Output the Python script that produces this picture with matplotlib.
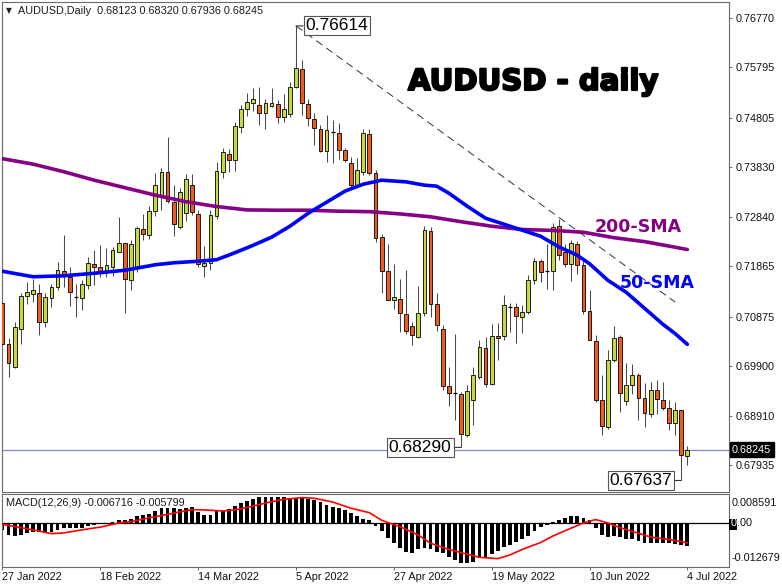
import matplotlib
matplotlib.use("Agg")
import matplotlib.pyplot as plt
from matplotlib.patches import Rectangle
import matplotlib.patheffects as pe

plt.rcParams['font.family'] = ['Liberation Sans', 'DejaVu Sans']
plt.rcParams['lines.scale_dashes'] = False

# ---------------- data ----------------
symbol = "AUDUSD,Daily"
last_ohlc = [0.68123, 0.68320, 0.67936, 0.68245]

opens = [
    0.71142, 0.70339, 0.69876, 0.70636, 0.71274, 0.71328, 0.71347, 0.70770, 0.71248, 0.71452,
    0.71768, 0.71660, 0.71268, 0.71240, 0.71495, 0.71921, 0.71853, 0.71772, 0.71853, 0.72158,
    0.72322, 0.71604, 0.71853, 0.72605, 0.72494, 0.72949, 0.73251, 0.73735, 0.73138, 0.72638,
    0.72911, 0.73469, 0.72909, 0.71867, 0.71930, 0.72856, 0.73731, 0.74075, 0.73963, 0.74621,
    0.74965, 0.75096, 0.75044, 0.74886, 0.75036, 0.75064, 0.74807, 0.74868, 0.75412, 0.75758,
    0.75064, 0.74779, 0.74576, 0.74141, 0.74510, 0.74491, 0.74166, 0.73898, 0.73478, 0.73731,
    0.74477, 0.73712, 0.72446, 0.71774, 0.71195, 0.71229, 0.70932, 0.70681, 0.70469, 0.70944,
    0.72565, 0.71116, 0.70636, 0.69495, 0.69362, 0.69337, 0.68526, 0.69232, 0.69679, 0.70260,
    0.69548, 0.70489, 0.70483, 0.71063, 0.71063, 0.70865, 0.70968, 0.71590, 0.71966, 0.71768,
    0.71768, 0.72658, 0.72150, 0.71907, 0.72316, 0.71887, 0.70978, 0.70384, 0.69218, 0.68690,
    0.70023, 0.70469, 0.69198, 0.69515, 0.69726, 0.69271, 0.68955, 0.69416, 0.69232, 0.69074,
    0.68769, 0.69020, 0.68123]

highs = [
    0.71209, 0.70458, 0.70760, 0.71343, 0.71561, 0.71606, 0.71525, 0.71333, 0.71511, 0.71952,
    0.72494, 0.71853, 0.71511, 0.71590, 0.72051, 0.72184, 0.72288, 0.72223, 0.72249, 0.72842,
    0.72342, 0.72381, 0.72658, 0.72901, 0.73053, 0.73700, 0.73811, 0.74422, 0.73469, 0.73409,
    0.73686, 0.73680, 0.72988, 0.72269, 0.72974, 0.73929, 0.74194, 0.74174, 0.74720, 0.75050,
    0.75293, 0.75380, 0.75400, 0.75163, 0.75380, 0.75149, 0.75262, 0.75511, 0.76614, 0.75934,
    0.75179, 0.74892, 0.74655, 0.74852, 0.74754, 0.74688, 0.74200, 0.74028, 0.73996, 0.74570,
    0.74570, 0.73765, 0.72514, 0.72302, 0.71907, 0.71624, 0.71802, 0.70766, 0.71472, 0.72658,
    0.72644, 0.71339, 0.70701, 0.69876, 0.70537, 0.69376, 0.69515, 0.69876, 0.70418, 0.70469,
    0.70734, 0.70746, 0.71294, 0.71142, 0.71142, 0.71096, 0.71689, 0.72039, 0.72019, 0.72316,
    0.72723, 0.72810, 0.72316, 0.72395, 0.72367, 0.71986, 0.71393, 0.70503, 0.69712, 0.70207,
    0.70681, 0.70517, 0.69955, 0.69944, 0.69758, 0.69560, 0.69580, 0.69613, 0.69580, 0.69218,
    0.69184, 0.69034, 0.68320]

lows = [
    0.70240, 0.69673, 0.69861, 0.70339, 0.71126, 0.71155, 0.70517, 0.70661, 0.71063, 0.71403,
    0.71452, 0.71086, 0.70865, 0.71003, 0.71426, 0.71492, 0.71656, 0.71656, 0.71670, 0.72150,
    0.70938, 0.71393, 0.71755, 0.72381, 0.72405, 0.72856, 0.72988, 0.73119, 0.72460, 0.72599,
    0.72757, 0.72875, 0.71853, 0.71656, 0.71788, 0.72810, 0.73601, 0.73731, 0.73745, 0.74503,
    0.74833, 0.74938, 0.74655, 0.74570, 0.75017, 0.74700, 0.74724, 0.74819, 0.75380, 0.74852,
    0.74645, 0.74259, 0.74121, 0.73929, 0.73913, 0.73983, 0.73923, 0.73435, 0.73435, 0.73666,
    0.73666, 0.72348, 0.71339, 0.71195, 0.71031, 0.70568, 0.70537, 0.70305, 0.70458, 0.70879,
    0.70865, 0.70588, 0.69430, 0.69099, 0.68823, 0.68290, 0.68487, 0.68724, 0.69647, 0.69481,
    0.69515, 0.70009, 0.70404, 0.70568, 0.70351, 0.70556, 0.70932, 0.71525, 0.71557, 0.71426,
    0.71407, 0.71986, 0.71853, 0.71577, 0.71723, 0.70918, 0.70404, 0.69184, 0.68526, 0.68658,
    0.69975, 0.68987, 0.69119, 0.69350, 0.68823, 0.68690, 0.68888, 0.68955, 0.69034, 0.68625,
    0.68526, 0.67637, 0.67936]

closes = [
    0.70339, 0.69955, 0.70667, 0.71274, 0.71367, 0.71403, 0.70770, 0.71260, 0.71458, 0.71788,
    0.71670, 0.71359, 0.71268, 0.71525, 0.71940, 0.71857, 0.71772, 0.71901, 0.72184, 0.72336,
    0.71624, 0.72316, 0.72618, 0.72514, 0.72961, 0.73469, 0.73735, 0.73152, 0.72698, 0.73330,
    0.73581, 0.72941, 0.71917, 0.71932, 0.72875, 0.73751, 0.74127, 0.73963, 0.74641, 0.74965,
    0.75110, 0.75163, 0.74886, 0.75084, 0.75084, 0.74807, 0.74965, 0.75412, 0.75776, 0.75084,
    0.74799, 0.74595, 0.74151, 0.74556, 0.74510, 0.74166, 0.73957, 0.73469, 0.73759, 0.74491,
    0.73700, 0.72435, 0.71774, 0.71209, 0.71260, 0.70952, 0.70588, 0.70503, 0.70944, 0.72579,
    0.71130, 0.70701, 0.69495, 0.69362, 0.69362, 0.68560, 0.69406, 0.69712, 0.70272, 0.69548,
    0.70483, 0.70458, 0.71096, 0.71063, 0.70879, 0.70972, 0.71590, 0.71966, 0.71762, 0.71768,
    0.72648, 0.72085, 0.71907, 0.72328, 0.71901, 0.70978, 0.70418, 0.69232, 0.68704, 0.70023,
    0.70450, 0.69362, 0.69528, 0.69726, 0.69271, 0.68975, 0.69430, 0.69238, 0.69074, 0.68769,
    0.69030, 0.68131, 0.68245]

sma200_bars = [0, 5, 10, 15, 20, 25, 30, 35, 40, 45, 50, 55, 60, 65, 70, 75, 80, 85, 90, 95,
               100, 105, 110, 112]
sma200 = [0.73992, 0.73884, 0.73735, 0.73567, 0.73419, 0.73271, 0.73142, 0.73047, 0.72980,
          0.72974, 0.72974, 0.72955, 0.72945, 0.72901, 0.72844, 0.72747, 0.72658, 0.72593,
          0.72575, 0.72539, 0.72431, 0.72354, 0.72243, 0.72197]

sma50_bars = [0, 5, 10, 15, 20, 25, 28, 32, 35, 38, 41, 44, 47, 50, 53, 56, 59, 62, 66, 69,
              71, 73, 76, 79, 82, 85, 88, 91, 94, 96, 99, 102, 105, 108, 110, 112]
sma50 = [0.71768, 0.71660, 0.71679, 0.71729, 0.71788, 0.71897, 0.71936, 0.71966, 0.71996,
         0.72134, 0.72282, 0.72441, 0.72658, 0.72915, 0.73132, 0.73350, 0.73488, 0.73567,
         0.73534, 0.73469, 0.73449, 0.73310, 0.73053, 0.72816, 0.72698, 0.72579, 0.72460,
         0.72249, 0.72085, 0.71917, 0.71590, 0.71353, 0.71037, 0.70721, 0.70537, 0.70325]

macd = [
    -0.00217, -0.00355, -0.00374, -0.00345, -0.00296, -0.00276, -0.00276, -0.00296, -0.00276, -0.00197,
    -0.00158, -0.00158, -0.00148, -0.00138, -0.00099, -0.00069, -0.00039, -0.00020, 0.00020, 0.00079,
    0.00099, 0.00118, 0.00197, 0.00227, 0.00276, 0.00345, 0.00424, 0.00443, 0.00443, 0.00414,
    0.00433, 0.00463, 0.00315, 0.00246, 0.00246, 0.00335, 0.00345, 0.00414, 0.00493, 0.00571,
    0.00640, 0.00709, 0.00749, 0.00768, 0.00768, 0.00768, 0.00758, 0.00739, 0.00719, 0.00719,
    0.00690, 0.00670, 0.00611, 0.00532, 0.00473, 0.00433, 0.00374, 0.00296, 0.00197, 0.00118,
    0.00099, -0.00099, -0.00246, -0.00438, -0.00591, -0.00739, -0.00837, -0.00887, -0.00768, -0.00739,
    -0.00758, -0.00837, -0.00887, -0.01005, -0.01084, -0.01162, -0.01162, -0.01133, -0.01034, -0.00985,
    -0.00906, -0.00808, -0.00709, -0.00640, -0.00542, -0.00473, -0.00374, -0.00246, -0.00128, -0.00049,
    0.00020, 0.00099, 0.00148, 0.00197, 0.00197, 0.00148, 0.00099, -0.00148, -0.00345, -0.00394,
    -0.00374, -0.00414, -0.00473, -0.00473, -0.00512, -0.00571, -0.00571, -0.00571, -0.00571, -0.00591,
    -0.00621, -0.00640, -0.006716]

signal_bars = [0, 5, 8, 10, 13, 16, 19, 21, 24, 27, 30, 31, 33, 36, 38, 40, 43, 46, 49, 51, 54,
               57, 60, 62, 65, 68, 70, 73, 76, 78, 81, 83, 85, 88, 90, 93, 95, 97, 99, 101, 104,
               106, 109, 111, 112]
signal = [-0.0004, -0.0020, -0.0031, -0.0029, -0.0020, -0.0012, 0.0000, 0.0004, 0.0015, 0.0025,
          0.0036, 0.0039, 0.0038, 0.0035, 0.0038, 0.0045, 0.0058, 0.0069, 0.0074, 0.0072, 0.0061,
          0.0043, 0.0030, 0.0008, -0.0011, -0.0035, -0.0059, -0.0077, -0.0091, -0.0100, -0.0104,
          -0.0093, -0.0077, -0.0057, -0.0038, -0.0015, 0.0000, 0.0010, 0.0000, -0.0014, -0.0030,
          -0.0041, -0.0048, -0.0054, -0.005799]

price_ticks = [0.76770, 0.75795, 0.74805, 0.73830, 0.72840, 0.71865, 0.70875, 0.69900, 0.68910, 0.67935]
macd_range = [-0.012679, 0.008591]
date_tick_bars = [0, 16, 32, 48, 64, 80, 96, 112]
date_labels = ["27 Jan 2022", "18 Feb 2022", "14 Mar 2022", "5 Apr 2022",
               "27 Apr 2022", "19 May 2022", "10 Jun 2022", "4 Jul 2022"]
marked_levels = [(48, 0.76614), (75, 0.68290), (111, 0.67637)]
trend_line = [(48, 0.76614), (110, 0.71160)]
current_price = 0.68245
macd_last = [-0.006716, -0.005799]

# ---------------- figure ----------------
W, H = 782, 587
fig = plt.figure(figsize=(W / 100, H / 100), dpi=100)
fig.patch.set_facecolor("white")

def fx(px):
    return px / W

def fy(py):
    return 1 - py / H

left_px, right_px = 2, 728.5
ax1 = fig.add_axes([fx(left_px), fy(491.5), fx(right_px - left_px), (491.5 - 2) / H])
ax2 = fig.add_axes([fx(left_px), fy(566.5), fx(right_px - left_px), (566.5 - 493.5) / H])

bar_px = 6.115
xmin = -0.08
xmax = xmin + (right_px - left_px) / bar_px
spine_col = "#6a6a6a"
lab_font = dict(family=['Liberation Sans', 'DejaVu Sans'], size=7.8)

for ax in (ax1, ax2):
    ax.set_xlim(xmin, xmax)
    ax.set_facecolor("white")
    for s in ax.spines.values():
        s.set_color(spine_col)
        s.set_linewidth(0.8)

ax1.set_ylim(0.67419, 0.77086)
ax2.set_ylim(macd_range[0], macd_range[1])

bull = "#c9d83a"
bear = "#f05a1e"

n = len(opens)
idx = list(range(n))

# wicks
ax1.vlines(idx, lows, highs, color="#4a4a4a", linewidth=0.75, zorder=2)
# bodies
for i in idx:
    o, c = opens[i], closes[i]
    if abs(c - o) < 1e-6:
        ax1.hlines(o, i - 0.33, i + 0.33, color="black", linewidth=0.9, zorder=3)
        continue
    col = bull if c > o else bear
    ax1.bar(i, abs(c - o), bottom=min(o, c), width=0.62, color=col,
            edgecolor="black", linewidth=0.6, zorder=3)

# moving averages
ax1.plot(sma200_bars, sma200, color="#850085", linewidth=2.6, zorder=4,
         solid_capstyle="round", solid_joinstyle="round")
ax1.plot(sma50_bars, sma50, color="#0000ff", linewidth=2.6, zorder=4,
         solid_capstyle="round", solid_joinstyle="round")

# trend line (dashed)
ax1.plot([trend_line[0][0], trend_line[1][0]], [trend_line[0][1], trend_line[1][1]],
         color="#333333", linewidth=0.7, linestyle=(0, (5.5, 3.5)), zorder=4)

# current price line
ax1.axhline(current_price, color="#8388c8", linewidth=0.9, zorder=1)

# price axis on right
ax1.yaxis.tick_right()
ax1.set_yticks(price_ticks)
ax1.set_yticklabels([f"{v:.5f}" for v in price_ticks], **lab_font)
ax1.tick_params(axis="y", direction="out", length=2.5, width=0.7, color=spine_col, pad=2.5,
                labelcolor="#111111")
ax1.set_xticks([])

# current price box label
ax1.annotate(f"{current_price:.5f}", xy=(1, current_price), xycoords=("axes fraction", "data"),
             xytext=(2.5, 0), textcoords="offset points", ha="left", va="center",
             color="white", fontsize=7.8,
             bbox=dict(boxstyle="square,pad=0.22", fc="black", ec="black"), zorder=10,
             annotation_clip=False)

# marked level labels
offsets = [(29.5, 0), (-29.5, 0), (-29.0, -0.3)]
for (b, v), off in zip(marked_levels, offsets):
    ax1.annotate(f"{v:.5f}", xy=(b, v), xytext=off, textcoords="offset points",
                 ha="center", va="center", fontsize=12.5, color="black",
                 bbox=dict(boxstyle="square,pad=0.12", fc="white", ec="#555555", lw=0.8),
                 arrowprops=dict(arrowstyle="-", color="#333333", lw=0.8,
                                 shrinkA=0, shrinkB=0),
                 zorder=8)

# header text
ax1.text((8.5 - left_px) / (right_px - left_px), (491.5 - 10.5) / 489.5, "\u25BC",
         transform=ax1.transAxes, ha="center", va="center", fontsize=5.5,
         family="DejaVu Sans", color="#222222")
ax1.text((18 - left_px) / (right_px - left_px), (491.5 - 11) / 489.5,
         f"{symbol}  " + " ".join(f"{v:.5f}" for v in last_ohlc),
         transform=ax1.transAxes, ha="left", va="center", color="#1a1a1a", **lab_font)

# big title
ax1.text((408 - left_px) / (right_px - left_px), (491.5 - 90) / 489.5, "AUDUSD - daily",
         transform=ax1.transAxes, ha="left", va="baseline", fontsize=21,
         family="DejaVu Sans", fontweight="bold", color="black",
         path_effects=[pe.withStroke(linewidth=1.5, foreground="black")], zorder=9)

# MA labels
ax1.text((595 - left_px) / (right_px - left_px), (491.5 - 231.5) / 489.5, "200-SMA",
         transform=ax1.transAxes, ha="left", va="baseline", fontsize=12.5,
         family="DejaVu Sans", fontweight="bold", color="#850085", zorder=9)
ax1.text((620 - left_px) / (right_px - left_px), (491.5 - 288.5) / 489.5, "50-SMA",
         transform=ax1.transAxes, ha="left", va="baseline", fontsize=12.5,
         family="DejaVu Sans", fontweight="bold", color="#0000ff", zorder=9)

# ---------------- MACD panel ----------------
ax2.bar(idx, macd, width=0.62, color="black", zorder=2)
ax2.axhline(0, color="black", linewidth=0.9, zorder=1)
ax2.plot(signal_bars, signal, color="#ff0000", linewidth=1.2, zorder=3)

ax2.set_yticks([])
ax2.set_xticks(date_tick_bars)
ax2.set_xticklabels(date_labels, ha="left", **lab_font)
ax2.tick_params(axis="x", direction="out", length=2.5, width=0.7, color=spine_col, pad=1.8,
                labelcolor="#111111")

ax2.text((6 - left_px) / (right_px - left_px), (566.5 - 503) / 73,
         f"MACD(12,26,9) {macd_last[0]:.6f} {macd_last[1]:.6f}",
         transform=ax2.transAxes, ha="left", va="center", color="#1a1a1a", **lab_font)

ax2.annotate(f"{macd_range[1]:.6f}", xy=(1, 1), xycoords="axes fraction",
             xytext=(2, -3.2), textcoords="offset points", ha="left", va="top",
             color="#111111", annotation_clip=False, **lab_font)
ax2.annotate(f"{macd_range[0]:.6f}", xy=(1, 0), xycoords="axes fraction",
             xytext=(2, 2.2), textcoords="offset points", ha="left", va="bottom",
             color="#111111", annotation_clip=False, **lab_font)

# zero level label with black marker box behind the first digit
fig.patches.append(Rectangle((fx(729), fy(529.5)), fx(8), 11 / H, transform=fig.transFigure,
                             facecolor="black", edgecolor="none", zorder=5))
zero_y = ax2.transData.transform((0, 0))[1] / H
zero_txt = f"{0:.2f}"
fig.text(fx(731), zero_y, zero_txt[0], ha="left", va="center", color="white", zorder=7, **lab_font)
fig.text(fx(737), zero_y, zero_txt[1:], ha="left", va="center", color="#111111", zorder=6, **lab_font)

fig.savefig("out.png", dpi=100, facecolor="white")
